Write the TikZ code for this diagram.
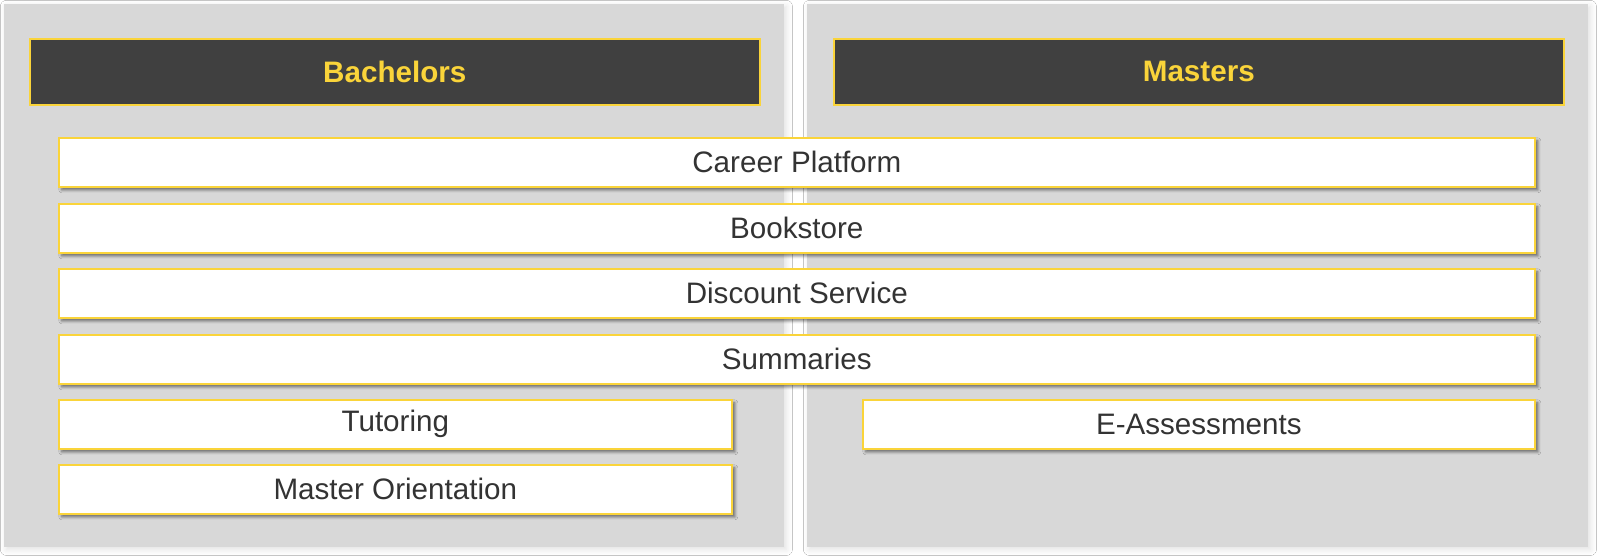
\documentclass[tikz,border=0pt]{standalone}
\usepackage{fontspec}
\setmainfont{Liberation Sans}
\usetikzlibrary{shadows.blur}

\definecolor{panelgray}{HTML}{D8D8D8}
\definecolor{headgray}{HTML}{404040}
\definecolor{edgeyellow}{HTML}{FAD43A}
\definecolor{textgray}{HTML}{333333}

\tikzset{
  panel/.style={fill=panelgray,draw=none,anchor=north west,inner sep=0pt,
    blur shadow={shadow xshift=1pt,shadow yshift=-1pt,shadow blur radius=3pt,shadow blur steps=6,shadow opacity=12}},
  head/.style={fill=headgray,draw=edgeyellow,line width=0.8pt,anchor=north west,inner sep=0pt,
    text=edgeyellow,font=\fontsize{14.8}{18}\selectfont\bfseries},
  bar/.style={fill=white,draw=edgeyellow,line width=0.8pt,anchor=north west,inner sep=0pt,
    text=textgray,font=\fontsize{14.8}{18}\selectfont,
    blur shadow={shadow xshift=1.5pt,shadow yshift=-1.5pt,shadow blur radius=1.5pt,shadow blur steps=5,shadow opacity=55}}
}

\begin{document}
\begin{tikzpicture}[x=0.5pt,y=-0.5pt]
	\useasboundingbox[fill=white] (0,0) rectangle (1600,559);
\draw (4,4) node[panel,minimum width=390pt,minimum height=271.5pt] (bachpanel) {};
\draw (807,4) node[panel,minimum width=390.5pt,minimum height=271.5pt] (mastpanel) {};
\draw (29,38) node[head,minimum width=365pt,minimum height=33pt] (bachelors) {Bachelors};
\draw (833,38) node[head,minimum width=365pt,minimum height=33pt] (masters) {Masters};
	\draw (58,137) node[bar,minimum width=738pt,minimum height=24.5pt] (career) {Career Platform};
	\draw (58,203) node[bar,minimum width=738pt,minimum height=24.5pt] (bookstore) {Bookstore};
	\draw (58,268) node[bar,minimum width=738pt,minimum height=24.5pt] (discount) {Discount Service};
	\draw (58,334) node[bar,minimum width=738pt,minimum height=24.5pt] (summaries) {Summaries};
	\draw (58,399) node[bar,minimum width=336.5pt,minimum height=24.5pt] (tutoring) {Tutoring};
	\draw (58,464) node[bar,minimum width=336.5pt,minimum height=24.5pt] (orientation) {Master Orientation};
	\draw (862,399) node[bar,minimum width=336pt,minimum height=24.5pt] (eassess) {E-Assessments};
	\end{tikzpicture}
\end{document}
